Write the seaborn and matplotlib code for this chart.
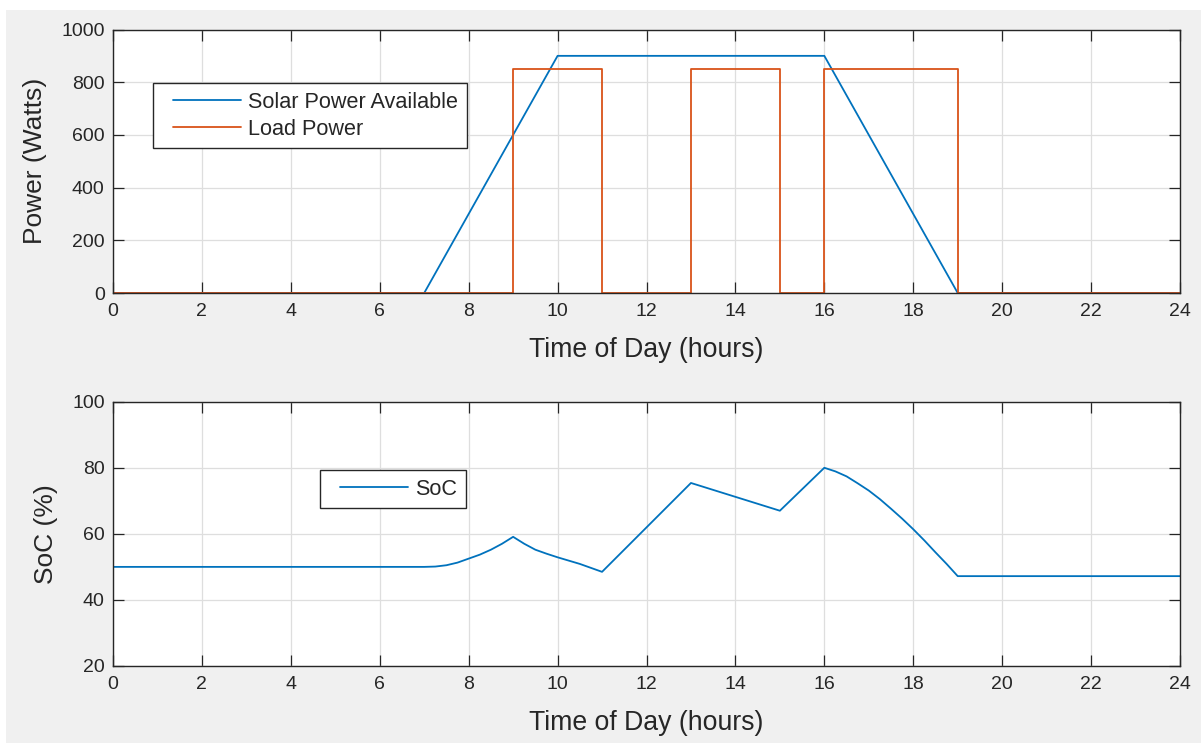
import matplotlib
matplotlib.use("Agg")
import matplotlib.pyplot as plt
import seaborn as sns
import pandas as pd
from matplotlib.patches import Rectangle
from matplotlib.legend_handler import HandlerLine2D

# ---- data ----
solar_hours = [0, 7, 10, 16, 19, 24]
solar_watts = [0, 0, 900, 900, 0, 0]

load_hours = [0, 9, 11, 13, 15, 16, 19, 24]
load_watts = [0, 850, 0, 850, 0, 850, 0, 0]

soc_hours = [0, 7, 7.25, 7.5, 7.75, 8, 8.25, 8.5, 8.75, 9,
             9.25, 9.5, 9.75, 10, 10.25, 10.5, 10.75, 11,
             13, 15, 16, 16.25, 16.5, 16.75, 17, 17.25, 17.5, 17.75,
             18, 18.25, 18.5, 18.75, 19, 24]
soc_pct = [50, 50, 50.1, 50.5, 51.3, 52.5, 53.7, 55.2, 57.0, 59.1,
           57.0, 55.2, 54.0, 52.9, 51.9, 50.9, 49.7, 48.5,
           75.4, 67.0, 80.0, 78.9, 77.4, 75.3, 73.1, 70.5, 67.6, 64.6,
           61.4, 58.0, 54.4, 50.9, 47.2, 47.2]

x_ticks = list(range(0, 25, 2))
power_ticks = [0, 200, 400, 600, 800, 1000]
soc_ticks = [20, 40, 60, 80, 100]

BLUE = "#0072BD"
ORANGE = "#D95319"
DARK = "#262626"

sns.set_theme(style="white")
plt.rcParams["font.family"] = ["Liberation Sans", "DejaVu Sans"]

LEG_FS = 15.6
LEG_PX = LEG_FS * 100 / 72
BPAD = 8.5
LPAD = 17 - BPAD


class PaddedLine(HandlerLine2D):
    """Legend line with a small extra gap on its left side."""
    def get_xdata(self, legend, xdescent, ydescent, width, height, fontsize):
        xs = [-xdescent + LPAD, -xdescent + width]
        return xs, [sum(xs) / 2]


fig = plt.figure(figsize=(12.01, 7.43), dpi=100, facecolor="white")
fig.patches.append(Rectangle((6 / 1201, 0), 1, 1 - 9.5 / 743,
                             transform=fig.transFigure, facecolor="#f0f0f0",
                             edgecolor="none", zorder=-10))

W, H = 1201, 743
ax1 = fig.add_axes([113 / W, 1 - 293 / H, 1067 / W, 263.5 / H])
ax2 = fig.add_axes([113 / W, 1 - 666 / H, 1067 / W, 264.3 / H])

solar_df = pd.DataFrame({"hour": solar_hours, "watts": solar_watts})
load_df = pd.DataFrame({"hour": load_hours, "watts": load_watts})
soc_df = pd.DataFrame({"hour": soc_hours, "soc": soc_pct})

sns.lineplot(data=solar_df, x="hour", y="watts", ax=ax1, color=BLUE,
             linewidth=1.3, estimator=None, sort=False,
             label="Solar Power Available")
sns.lineplot(data=load_df, x="hour", y="watts", ax=ax1, color=ORANGE,
             linewidth=1.3, estimator=None, sort=False,
             drawstyle="steps-post", label="Load Power")
sns.lineplot(data=soc_df, x="hour", y="soc", ax=ax2, color=BLUE,
             linewidth=1.3, estimator=None, sort=False, label="SoC")

for ax, yticks, ylim, ylabel in [
    (ax1, power_ticks, (0, 1000), "Power (Watts)"),
    (ax2, soc_ticks, (20, 100), "SoC (%)"),
]:
    ax.set_facecolor("white")
    ax.set_xlim(0, 24)
    ax.set_ylim(*ylim)
    ax.set_xticks(x_ticks)
    ax.set_yticks(yticks)
    ax.grid(True, color="#dedede", linewidth=0.9)
    ax.set_axisbelow(True)
    for s in ax.spines.values():
        s.set_color(DARK)
        s.set_linewidth(1.0)
        s.set_visible(True)
    ax.tick_params(direction="in", length=8, width=0.9, color=DARK,
                   labelcolor=DARK, labelsize=14, top=True, right=True,
                   bottom=True, left=True, pad=6)
    ax.tick_params(axis="x", pad=7.5)
    ax.set_xlabel("Time of Day (hours)", fontsize=19.2, color=DARK, labelpad=12)
    ax.set_ylabel(ylabel, fontsize=19, color=DARK, labelpad=10)

leg_kw = dict(loc="upper left", borderaxespad=0, fontsize=LEG_FS, frameon=True,
              fancybox=False, framealpha=1, edgecolor=DARK,
              handlelength=(71 + LPAD) / LEG_PX, handletextpad=7 / LEG_PX,
              borderpad=BPAD / LEG_PX, labelspacing=0.28,
              handler_map={matplotlib.lines.Line2D: PaddedLine()})
l1 = ax1.legend(bbox_to_anchor=(40 / 1067, (293 - 83) / 263.5), **leg_kw)
l2 = ax2.legend(bbox_to_anchor=(207 / 1067, (666 - 470) / 264.3), **leg_kw)
for l in (l1, l2):
    l.get_frame().set_linewidth(1.0)
    for t in l.get_texts():
        t.set_color(DARK)

fig.savefig("out.png", dpi=100, facecolor=fig.get_facecolor())
